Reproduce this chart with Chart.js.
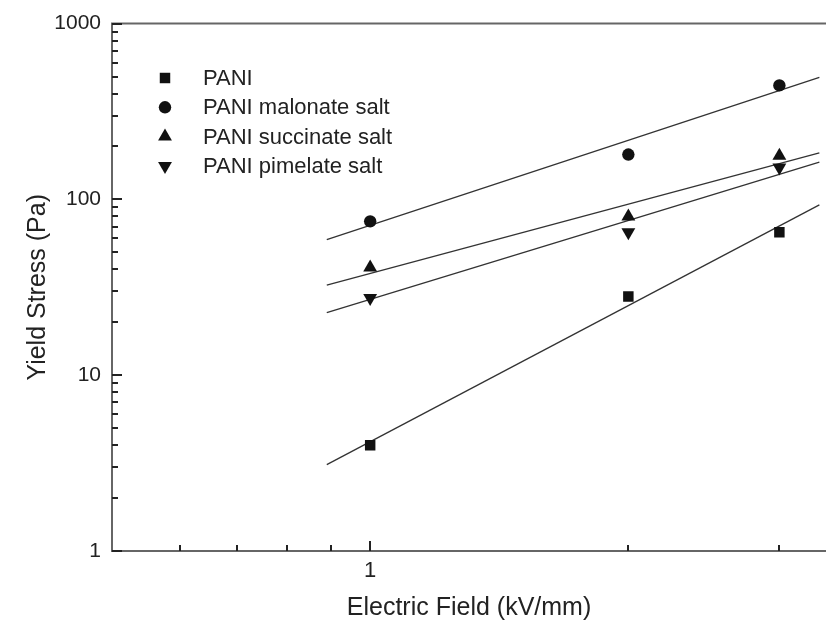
<!DOCTYPE html>
<html>
<head>
<meta charset="utf-8">
<script src="https://cdn.jsdelivr.net/npm/chart.js@4/dist/chart.umd.min.js"></script>
<style>
  html, body { margin: 0; padding: 0; background: #ffffff; }
  #wrap { width: 826px; height: 630px; }
</style>
</head>
<body>
<div id="wrap"><canvas id="c" width="826" height="630"></canvas></div>
<script>
// ---- data ----
const fieldValues = [1, 2, 3];                 // Electric Field (kV/mm)
const paniValues = [4, 28, 65];                // PANI
const malonateValues = [75, 180, 445];         // PANI malonate salt
const succinateValues = [41, 80, 177];         // PANI succinate salt
const pimelateValues = [27.5, 65, 152];        // PANI pimelate salt

// fitted lines (end points)
const fitField = [0.89, 3.34];
const paniFit = [3.1, 93];
const malonateFit = [59, 495];
const succinateFit = [32.5, 184];
const pimelateFit = [22.7, 163];

const seriesLabels = ['PANI', 'PANI malonate salt', 'PANI succinate salt', 'PANI pimelate salt'];

// tick values
const xMajorTicks = [1];
const xMinorTicks = [0.6, 0.7, 0.8, 0.9, 2, 3];
const yMajorTicks = [1, 10, 100, 1000];
const yMinorTicks = [2,3,4,5,6,7,8,9, 20,30,40,50,60,70,80,90, 200,300,400,500,600,700,800,900];

const FONT = "'Liberation Sans', Arial, Helvetica, sans-serif";

function pts(xs, ys) { return xs.map((x, i) => ({ x: x, y: ys[i] })); }

const markerStyles = [
  { pointStyle: 'rect', radius: 7.4, rotation: 0 },
  { pointStyle: 'circle', radius: 6.2, rotation: 0 },
  { pointStyle: 'triangle', radius: 8, rotation: 0 },
  { pointStyle: 'triangle', radius: 8, rotation: 180 }
];
const seriesValues = [paniValues, malonateValues, succinateValues, pimelateValues];
const fitValues = [paniFit, malonateFit, succinateFit, pimelateFit];

const datasets = [];
seriesValues.forEach((vals, i) => {
  datasets.push({
    type: 'scatter',
    label: seriesLabels[i],
    data: pts(fieldValues, vals),
    pointStyle: markerStyles[i].pointStyle,
    pointRadius: markerStyles[i].radius,
    pointRotation: markerStyles[i].rotation,
    backgroundColor: '#111',
    borderColor: '#111',
    borderWidth: 0,
    showLine: false,
    order: 1
  });
});
fitValues.forEach((vals, i) => {
  datasets.push({
    type: 'line',
    label: seriesLabels[i] + ' fit',
    isFit: true,
    data: pts(fitField, vals),
    borderColor: '#333',
    borderWidth: 1.3,
    pointRadius: 0,
    fill: false,
    tension: 0,
    order: 2
  });
});

function drawMarker(ctx, style, x, y, r, rot) {
  ctx.beginPath();
  if (style === 'rect') {
    const s = r * Math.SQRT1_2;
    ctx.rect(x - s, y - s, 2 * s, 2 * s);
  } else if (style === 'circle') {
    ctx.arc(x, y, r, 0, Math.PI * 2);
  } else {
    const a0 = (rot ? Math.PI / 2 : -Math.PI / 2);
    for (let k = 0; k < 3; k++) {
      const a = a0 + k * 2 * Math.PI / 3;
      const px = x + r * Math.cos(a), py = y + r * Math.sin(a);
      if (k === 0) ctx.moveTo(px, py); else ctx.lineTo(px, py);
    }
    ctx.closePath();
  }
  ctx.fill();
}

const framePlugin = {
  id: 'frameTicks',
  afterDraw(chart) {
    const ctx = chart.ctx;
    const { left, right, top, bottom } = chart.chartArea;
    const xs = chart.scales.x, ys = chart.scales.y;
    ctx.save();
    ctx.strokeStyle = '#666';
    ctx.lineWidth = 2;
    ctx.beginPath();
    ctx.moveTo(left - 1, top);
    ctx.lineTo(right, top);
    ctx.stroke();
    ctx.strokeStyle = '#222';
    ctx.lineWidth = 2;
    const seg = (x1, y1, x2, y2) => { ctx.beginPath(); ctx.moveTo(x1, y1); ctx.lineTo(x2, y2); ctx.stroke(); };
    xMajorTicks.forEach(v => { const p = Math.round(xs.getPixelForValue(v)); seg(p, bottom, p, bottom - 10); });
    xMinorTicks.forEach(v => { const p = Math.round(xs.getPixelForValue(v)); seg(p, bottom, p, bottom - 6); });
    yMajorTicks.forEach(v => { const p = Math.round(ys.getPixelForValue(v)); seg(left, p, left + 10, p); });
    yMinorTicks.forEach(v => { const p = Math.round(ys.getPixelForValue(v)); seg(left, p, left + 6, p); });
    ctx.restore();
  }
};

const legendPlugin = {
  id: 'insideLegend',
  afterDraw(chart) {
    const ctx = chart.ctx;
    const mx = 165, tx = 203, y0 = 78, dy = 29.3;
    ctx.save();
    ctx.font = "22px " + FONT;
    ctx.textBaseline = 'middle';
    ctx.textAlign = 'left';
    chart.data.datasets.filter(d => !d.isFit).forEach((d, i) => {
      const y = y0 + i * dy;
      ctx.fillStyle = '#111';
      drawMarker(ctx, d.pointStyle, mx, y, d.pointRadius, d.pointRotation);
      ctx.fillStyle = '#222';
      ctx.fillText(d.label, tx, y + 1);
    });
    ctx.restore();
  }
};

new Chart(document.getElementById('c'), {
  type: 'scatter',
  data: { datasets: datasets },
  options: {
    responsive: false,
    animation: false,
    devicePixelRatio: 1,
    layout: { autoPadding: false, padding: { top: 23, right: 0, left: 0, bottom: 0 } },
    plugins: {
      legend: { display: false },
      tooltip: { enabled: false }
    },
    scales: {
      x: {
        type: 'logarithmic',
        position: 'bottom',
        min: 0.5,
        max: 3.4,
        afterBuildTicks(scale) { scale.ticks = xMajorTicks.map(v => ({ value: v })); },
        afterFit(scale) { scale.height = 79; },
        ticks: {
          color: '#222',
          font: { family: FONT, size: 22 },
          padding: 7,
          maxRotation: 0,
          autoSkip: false,
          callback: (v) => String(v)
        },
        grid: { display: false, drawTicks: false },
        border: { display: true, color: '#666', width: 2 },
        title: {
          display: true,
          text: 'Electric Field (kV/mm)',
          color: '#222',
          font: { family: FONT, size: 25 },
          padding: { top: 0, bottom: 7 }
        }
      },
      y: {
        type: 'logarithmic',
        position: 'left',
        min: 1,
        max: 1000,
        afterBuildTicks(scale) { scale.ticks = yMajorTicks.map(v => ({ value: v })); },
        afterFit(scale) { scale.width = 112; },
        ticks: {
          color: '#222',
          font: { family: FONT, size: 21 },
          padding: 11,
          autoSkip: false,
          callback: (v) => String(v)
        },
        grid: { display: false, drawTicks: false },
        border: { display: true, color: '#666', width: 2 },
        title: {
          display: true,
          text: 'Yield Stress (Pa)',
          color: '#222',
          font: { family: FONT, size: 25 },
          padding: { top: 23, bottom: 0 }
        }
      }
    }
  },
  plugins: [framePlugin, legendPlugin]
});
</script>
</body>
</html>
